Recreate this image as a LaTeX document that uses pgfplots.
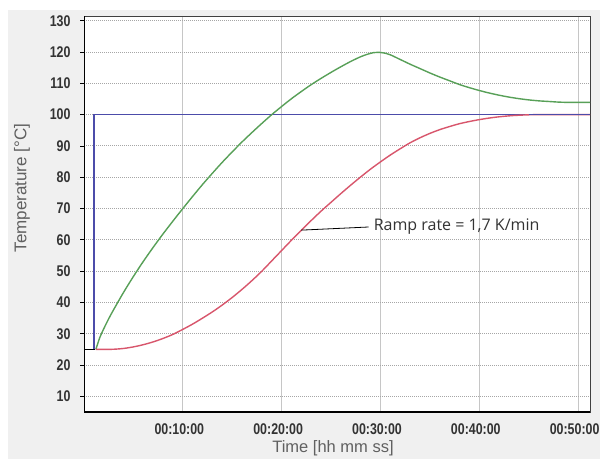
\documentclass[border=0pt]{standalone}
\usepackage{pgfplots}
\pgfplotsset{compat=1.18}
\usepackage{fontspec}
\setmainfont{Liberation Sans}
\newfontfamily\tickfont{Liberation Sans}[FakeStretch=0.8]
\newfontfamily\annfont{Open Sans}
\definecolor{bgcol}{HTML}{F0F0F0}
\definecolor{bluec}{HTML}{4C4CAA}
\definecolor{greenc}{HTML}{58A058}
\definecolor{redc}{HTML}{D8566C}
\definecolor{ticktxt}{HTML}{333333}
\definecolor{labtxt}{HTML}{606060}
\begin{document}
\begin{tikzpicture}[x=1pt,y=1pt]
\path[use as bounding box] (0,0) rectangle (600,459);
\fill[bgcol] (8,0) rectangle (600,449);
\begin{axis}[
  at={(84pt,47pt)}, anchor=south west,
  scale only axis, width=506pt, height=396pt,
  xmin=0, xmax=51.2, ymin=5, ymax=131.5,
  axis background/.style={fill=white},
  xtick={10,20,30,40,50},
  xticklabels={00:10:00,00:20:00,00:30:00,00:40:00,00:50:00},
  ytick={10,20,...,130},
  tick align=outside, major tick length=4pt,
  ytick pos=left, xtick pos=bottom,
  xtick style={draw=none},
  ytick style={black, line width=0.8pt},
  /pgf/number format/assume math mode=true,
  ticklabel style={font=\tickfont\bfseries\fontsize{15.5}{18}\selectfont, text=ticktxt},
  yticklabel style={xshift=-6pt},
  xticklabel style={yshift=-4pt, xshift=-3.5pt},
  grid=major,
  x grid style={color=gray!45, line width=0.7pt},
  y grid style={color=gray!70, line width=1pt, dash pattern=on 1pt off 1pt},
  axis line style={draw=black!75, line width=1pt},
]
\addplot[bluec, line width=1.4pt] coordinates {(0,25) (1.0,25) (1.0,100) (51.2,100)};
\addplot[black, line width=1.6pt] coordinates {(0,25) (1.1,25)};
\addplot[greenc, line width=1.4pt, smooth] coordinates {
(1.2,25) (1.6,28.8) (2,31.6) (2.5,34.8) (3,37.7) (4,43.2) (5,48.3) (6,53.1) (7,57.6)
(8,61.9) (9,66.0) (10,70.0) (11,73.9) (12,77.7) (13,81.3) (14,84.8) (15,88.1)
(16,91.3) (17,94.3) (18,97.2) (19,100.0) (20,102.6) (21,105.1) (22,107.4)
(23,109.6) (24,111.6) (25,113.5) (26,115.3) (27,117.0) (28,118.5) (28.7,119.3)
(29.3,119.8) (29.8,119.9) (30.5,119.6) (31,119.1) (32,117.6) (33,116.1) (34,114.7)
(35,113.3) (36,112.0) (37,110.8) (38,109.6) (39,108.6) (40,107.7) (41,106.9)
(42,106.2) (43,105.6) (44,105.1) (45,104.7) (46,104.4) (47,104.2) (48,104.0)
(49,103.9) (50,103.9) (51.2,103.9)};
\addplot[redc, line width=1.4pt, smooth] coordinates {
(1.2,25) (2,25) (3,25.05) (4,25.3) (5,25.8) (6,26.5) (7,27.4) (8,28.5) (9,29.8)
(10,31.4) (11,33.1) (12,35.0) (13,37.0) (14,39.2) (15,41.6) (16,44.2) (17,47.0)
(18,50.0) (19,53.3) (20,56.6) (21,59.9) (22,63.1) (23,66.2) (24,69.2) (25,72.0)
(26,74.8) (27,77.5) (28,80.1) (29,82.6) (30,84.9) (31,87.1) (32,89.1) (33,91.0)
(34,92.6) (35,94.0) (36,95.2) (37,96.2) (38,97.1) (39,97.8) (40,98.4) (41,98.9)
(42,99.3) (43,99.6) (44,99.8) (46,100) (51.2,100)};
\addplot[bluec, line width=1.2pt] coordinates {(45,100) (51.2,100)};
\draw[black, line width=0.8pt] (axis cs:22,63.1) -- (axis cs:28.8,64.1);
\node[anchor=west, inner sep=0pt, font=\annfont\fontsize{16}{18}\selectfont, text=black!80] at (axis cs:29.3,64.1) {Ramp rate = 1,7 K/min};
\draw[black, line width=2pt] (rel axis cs:0,1) -- (rel axis cs:0,0) -- (rel axis cs:1,0);
\end{axis}
\node[rotate=90, font=\fontsize{17}{19}\selectfont, text=labtxt] at (22,271) {Temperature [°C]};
\node[font=\fontsize{16.5}{19}\selectfont, text=labtxt] at (333,11) {Time [hh mm ss]};
\end{tikzpicture}
\end{document}
